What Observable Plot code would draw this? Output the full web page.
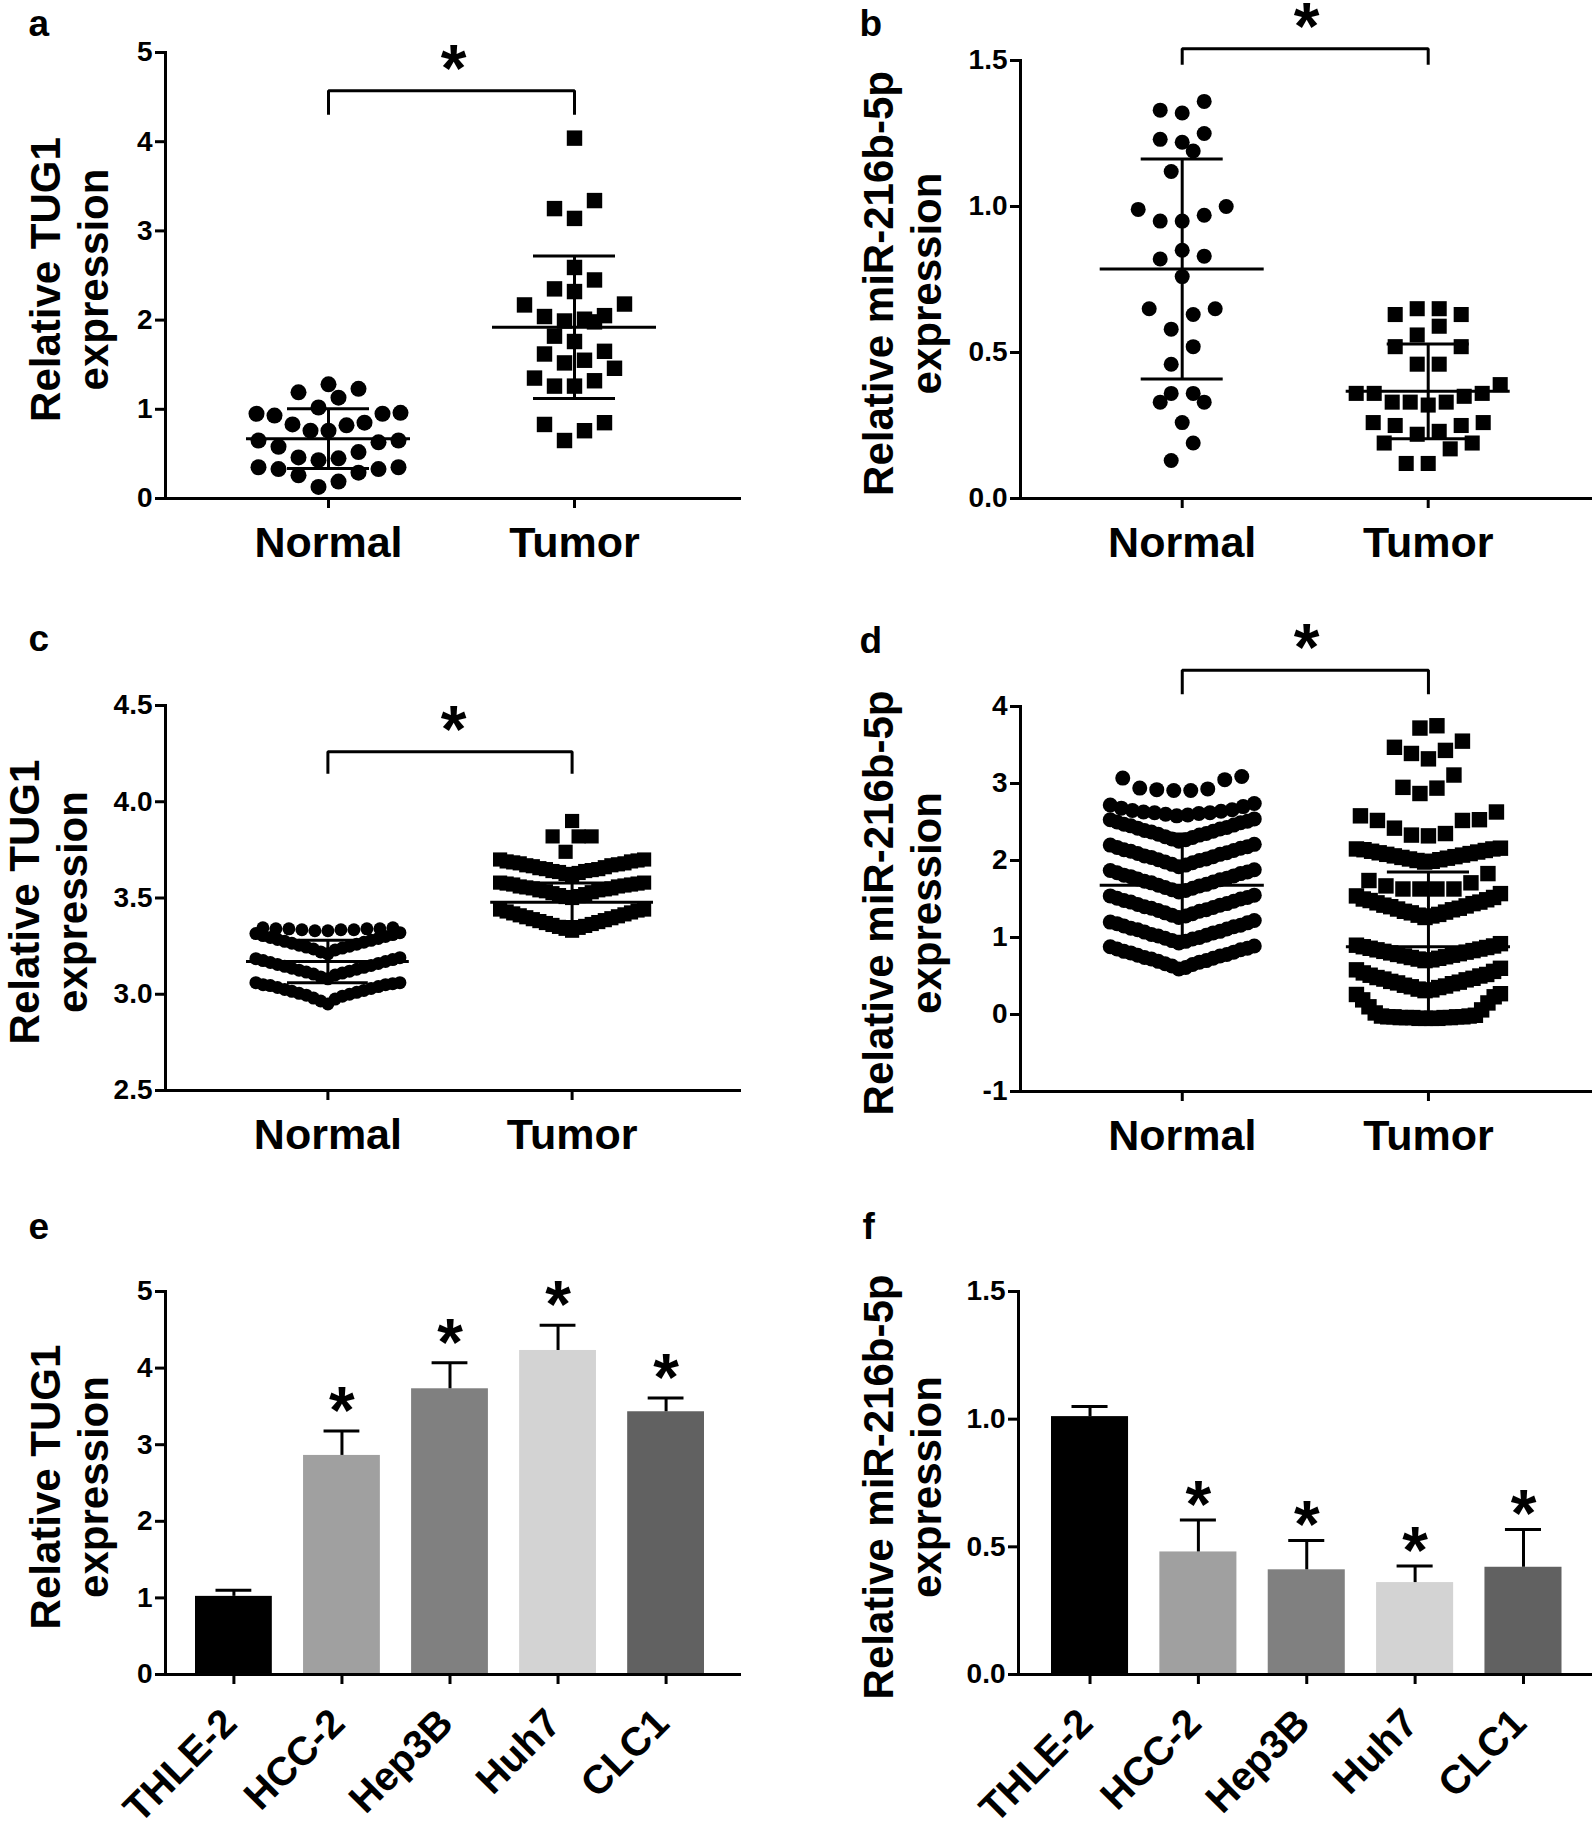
<!DOCTYPE html>
<html><head><meta charset="utf-8">
<script src="https://cdn.jsdelivr.net/npm/d3@7"></script>
<script src="https://cdn.jsdelivr.net/npm/@observablehq/plot@0.6"></script>
<style>
html,body{margin:0;padding:0;background:#fff;}
#fig{position:relative;width:1595px;height:1830px;overflow:hidden;background:#fff;}
#fig svg{position:absolute;overflow:visible;}
</style></head><body><div id="fig"></div>
<script>
// ---------------- DATA ----------------
const groups = ["Normal", "Tumor"];

// a: TUG1 in tissues
const aNormal = [1.23,1.28,1.13,1.19,0.96,0.95,1.02,0.93,0.95,0.85,0.82,0.83,0.76,0.76,0.65,0.63,0.65,0.58,0.52,0.45,0.43,0.46,0.35,0.33,0.26,0.29,0.33,0.35,0.13,0.19];
const aTumor  = [4.04,3.34,3.25,3.14,2.59,2.45,2.32,2.35,2.17,2.18,2.05,2.01,1.98,1.99,2.04,1.82,1.76,1.62,1.52,1.55,1.65,1.46,1.35,1.26,1.26,1.32,0.83,0.65,0.76,0.85];
const aMean = [0.67, 1.92], aSD = [0.335, 0.80];

// b: miR-216b-5p in tissues
const bNormal = [1.36,1.32,1.33,1.23,1.22,1.25,1.19,1.12,0.99,1.00,0.95,0.95,0.97,0.85,0.82,0.83,0.76,0.65,0.65,0.63,0.58,0.52,0.46,0.36,0.33,0.36,0.33,0.26,0.19,0.13];
const bTumor  = [0.63,0.65,0.65,0.63,0.56,0.59,0.52,0.52,0.46,0.46,0.39,0.36,0.35,0.33,0.32,0.33,0.33,0.36,0.36,0.26,0.25,0.23,0.22,0.25,0.26,0.19,0.17,0.19,0.12,0.12];
const bMean = [0.786, 0.367], bSD = [0.377, 0.162];

// c: TUG1 (database cohort)
const cNormal = [
  2.95,2.965,2.975,2.98,2.99,2.995,3.00,3.005,3.01,3.015,3.02,3.025,3.03,3.035,3.04,3.045,3.05,3.05,3.055,3.06,3.06,
  3.08,3.09,3.10,3.105,3.11,3.115,3.12,3.125,3.13,3.135,3.14,3.145,3.15,3.155,3.16,3.165,3.17,3.175,3.18,3.185,3.19,
  3.21,3.22,3.23,3.235,3.24,3.245,3.25,3.255,3.26,3.265,3.27,3.275,3.28,3.285,3.29,3.295,3.30,3.305,3.31,3.315,3.32,
  3.33,3.33,3.335,3.335,3.335,3.34,3.34,3.34,3.34,3.345,3.345];
const cTumor = [
  3.33,3.34,3.345,3.35,3.355,3.36,3.365,3.37,3.375,3.38,3.385,3.39,3.395,3.40,3.405,3.41,3.415,3.42,3.425,3.43,3.435,3.44,3.44,
  3.50,3.505,3.51,3.515,3.52,3.525,3.53,3.535,3.54,3.54,3.545,3.55,3.55,3.555,3.56,3.56,3.565,3.57,3.57,3.575,3.575,3.58,3.58,
  3.62,3.625,3.63,3.635,3.64,3.64,3.645,3.65,3.65,3.655,3.66,3.665,3.67,3.67,3.675,3.68,3.68,3.685,3.69,3.69,3.695,3.70,3.70,
  3.74,3.82,3.82,3.82,3.90];
const cMean = [3.17, 3.478], cSD = [0.11, 0.10];

// d: miR-216b-5p (database cohort)
const dNormal = [
  0.59,0.61,0.63,0.65,0.66,0.68,0.69,0.70,0.72,0.73,0.74,0.76,0.77,0.78,0.80,0.81,0.82,0.84,0.85,0.86,0.88,0.89,
  0.93,0.95,0.96,0.98,0.99,1.00,1.02,1.03,1.04,1.06,1.07,1.08,1.10,1.11,1.12,1.14,1.15,1.16,1.18,1.19,1.20,1.22,
  1.26,1.28,1.29,1.31,1.32,1.34,1.35,1.36,1.38,1.39,1.40,1.42,1.43,1.44,1.46,1.47,1.48,1.50,1.51,1.52,1.54,1.55,
  1.59,1.61,1.62,1.64,1.65,1.67,1.68,1.69,1.71,1.72,1.73,1.75,1.76,1.77,1.79,1.80,1.81,1.83,1.84,1.85,1.87,1.88,
  1.92,1.94,1.95,1.97,1.98,2.00,2.01,2.02,2.04,2.05,2.06,2.08,2.09,2.10,2.12,2.13,2.14,2.16,2.17,2.18,2.20,2.21,
  2.25,2.27,2.28,2.30,2.31,2.33,2.34,2.35,2.37,2.38,2.39,2.41,2.42,2.43,2.45,2.46,2.47,2.49,2.50,2.51,2.53,2.54,
  2.58,2.59,2.60,2.61,2.62,2.62,2.63,2.64,2.65,2.66,2.68,2.70,2.72,2.74,
  2.91,2.91,2.92,2.93,2.94,3.05,3.07,3.09];
const dTumor = [
  -0.05,-0.05,-0.05,-0.05,-0.04,-0.04,-0.04,-0.04,-0.04,-0.03,-0.03,-0.03,-0.03,-0.02,-0.02,-0.01,0.02,0.06,0.10,0.15,0.19,0.23,0.26,0.27,
  0.31,0.32,0.33,0.35,0.36,0.37,0.38,0.40,0.41,0.42,0.43,0.45,0.46,0.47,0.48,0.50,0.51,0.52,0.54,0.56,0.58,0.60,
  0.70,0.71,0.72,0.73,0.74,0.75,0.76,0.77,0.78,0.79,0.80,0.81,0.82,0.83,0.84,0.85,0.86,0.87,0.88,0.89,0.90,0.92,
  1.26,1.28,1.29,1.30,1.32,1.33,1.34,1.36,1.37,1.38,1.40,1.41,1.42,1.44,1.45,1.46,1.48,1.49,1.50,1.52,1.54,1.57,
  1.63,1.63,1.63,1.63,1.67,1.71,1.74,1.83,
  1.98,1.99,2.00,2.01,2.02,2.03,2.04,2.05,2.06,2.07,2.08,2.09,2.10,2.11,2.12,2.13,2.14,2.15,2.15,2.16,
  2.32,2.33,2.35,2.42,2.52,2.52,2.53,2.58,2.63,
  2.87,2.94,2.95,3.11,
  3.32,3.39,3.43,3.47,3.55,
  3.72,3.75];
const dMean = [1.68, 0.88], dSD = [0.665, 0.97];

// significance bracket levels (a, b, c, d)
const bracketLevels = [4.57, 1.54, 4.26, 4.47];

// e, f: cell lines
const cells = ["THLE-2", "HCC-2", "Hep3B", "Huh7", "CLC1"];
const eMean = [1.02, 2.86, 3.73, 4.23, 3.43];
const eErr  = [0.08, 0.32, 0.34, 0.33, 0.18];
const fMean = [1.01, 0.48, 0.41, 0.36, 0.42];
const fErr  = [0.04, 0.125, 0.115, 0.065, 0.148];
const sigCells = [false, true, true, true, true];

const titleTUG1 = "Relative TUG1\nexpression";
const titleMiR = "Relative miR-216b-5p\nexpression";

// ---------------- STYLE ----------------
const FONT = '"Liberation Sans", Arial, Helvetica, sans-serif';
const barGrays = ["#000000", "#a0a0a0", "#808080", "#d3d3d3", "#616161"];
const SW = 3;
const STAR = 66;

// Prism-like column scatter layout (rows of near-equal values spread center-out)
function rowLayout({rowSpan, sMax, maxHalf}) {
  return (data, facets, channels, scales) => {
    const X = channels.x.value, Y = channels.y.value;
    const n = X.length;
    const PX = new Float64Array(n), PY = new Float64Array(n);
    const byCat = d3.group(d3.range(n), i => X[i]);
    for (const [cat, idx] of byCat) {
      const x0 = scales.x(cat);
      const sorted = idx.slice().sort((a, b) => Y[a] - Y[b]);
      let k = 0;
      while (k < sorted.length) {
        const y0 = scales.y(Y[sorted[k]]);
        let j = k;
        while (j < sorted.length && y0 - scales.y(Y[sorted[j]]) < rowSpan) j++;
        const row = sorted.slice(k, j);
        const m = row.length;
        const s = m > 1 ? Math.min(sMax, 2 * maxHalf / (m - 1)) : 0;
        row.forEach((i, r) => {
          let off;
          if (m % 2) off = r === 0 ? 0 : (r % 2 ? -1 : 1) * s * Math.ceil(r / 2);
          else off = (r % 2 ? 1 : -1) * s * (Math.floor(r / 2) + 0.5);
          PX[i] = x0 + off;
          PY[i] = scales.y(Y[i]);
        });
        k = j;
      }
    }
    return {data, facets, channels: {x: {value: PX, source: null}, y: {value: PY, source: null}}};
  };
}

function margins(p) {
  return {
    width: p.box.width, height: p.box.height,
    marginLeft: p.frame.left - p.box.left,
    marginRight: p.box.left + p.box.width - p.frame.right,
    marginTop: p.frame.top - p.box.top,
    marginBottom: p.box.top + p.box.height - p.frame.bottom
  };
}

function commonMarks(p) {
  return [
    Plot.frame({anchor: "left", strokeWidth: SW}),
    Plot.ruleY([p.yDomain[0]], {strokeWidth: SW}),
    Plot.axisY({ticks: p.yTicks, tickFormat: p.fmt, tickSize: 10, tickPadding: 3,
      fontSize: 28, fontWeight: "bold", strokeWidth: SW, label: null}),
    Plot.text([p.title], {frameAnchor: "left", rotate: -90, textAnchor: "middle", lineAnchor: "top",
      lineHeight: 1.15, dx: p.titleX - 4 - p.frame.left, dy: 4, fontSize: 42, fontWeight: "bold"}),
    Plot.text([p.letter], {frameAnchor: "top-left", textAnchor: "start", lineAnchor: "bottom",
      dx: p.letterPos[0] - p.frame.left, dy: p.letterPos[1] - p.frame.top, fontSize: 37, fontWeight: "bold"})
  ];
}

function place(svg, p) {
  svg.style.position = "absolute";
  svg.style.left = p.box.left + "px";
  svg.style.top = p.box.top + "px";
  document.getElementById("fig").appendChild(svg);
}

function scatterPanel(p) {
  const pxPerUnit = (p.frame.bottom - p.frame.top) / (p.yDomain[1] - p.yDomain[0]);
  const pts = (vals, g) => vals.map(v => ({g, v}));
  const stats = groups.map((g, i) => ({g, mean: p.mean[i], lo: p.mean[i] - p.sd[i], hi: p.mean[i] + p.sd[i]}));
  const legLow = p.bracket - p.legPx / pxPerUnit;
  const bracketPath = [
    {g: groups[0], v: legLow}, {g: groups[0], v: p.bracket},
    {g: groups[1], v: p.bracket}, {g: groups[1], v: legLow}];
  const lay = rowLayout(p.layout);
  const svg = Plot.plot({
    ...margins(p),
    style: {fontFamily: FONT, color: "black", background: "none", overflow: "visible"},
    x: {type: "band", domain: groups, range: [p.xRange[0] - p.box.left, p.xRange[1] - p.box.left],
        paddingInner: 1 / 3, paddingOuter: 0, round: false},
    y: {domain: p.yDomain, nice: false},
    marks: [
      ...commonMarks(p),
      Plot.axisX({tickSize: 10, tickPadding: 18, fontSize: 43, fontWeight: "bold", strokeWidth: SW, label: null}),
      Plot.dot(pts(p.normal, groups[0]), {x: "g", y: "v", r: p.rN, symbol: "circle", fill: "black", stroke: "none", initializer: lay}),
      Plot.dot(pts(p.tumor, groups[1]), {x: "g", y: "v", r: p.rT, symbol: "square", fill: "black", stroke: "none", initializer: lay}),
      Plot.tickY(stats, {x: "g", y: "mean", strokeWidth: SW}),
      Plot.ruleX(stats, {x: "g", y1: "lo", y2: "hi", strokeWidth: SW}),
      Plot.tickY(stats, {x: "g", y: "hi", strokeWidth: SW, insetLeft: 41, insetRight: 41}),
      Plot.tickY(stats, {x: "g", y: "lo", strokeWidth: SW, insetLeft: 41, insetRight: 41}),
      Plot.line(bracketPath, {x: "g", y: "v", strokeWidth: SW, strokeLinejoin: "miter", strokeLinecap: "butt"}),
      Plot.text(["*"], {y: p.bracket, fontSize: STAR, fontWeight: "bold", lineAnchor: "bottom", dy: 0})
    ]
  });
  place(svg, p);
}

function barPanel(p) {
  const rows = cells.map((c, i) => ({c, v: p.mean[i], top: p.mean[i] + p.err[i], sig: sigCells[i]}));
  const svg = Plot.plot({
    ...margins(p),
    style: {fontFamily: FONT, color: "black", background: "none", overflow: "visible"},
    x: {type: "band", domain: cells, range: [p.xRange[0] - p.box.left, p.xRange[1] - p.box.left],
        paddingInner: 0.289, paddingOuter: 0, round: false},
    y: {domain: p.yDomain, nice: false},
    color: {type: "ordinal", domain: cells, range: barGrays},
    marks: [
      Plot.barY(rows, {x: "c", y: "v", fill: "c"}),
      Plot.ruleX(rows, {x: "c", y1: "v", y2: "top", strokeWidth: SW}),
      Plot.tickY(rows, {x: "c", y: "top", strokeWidth: SW, insetLeft: 20.5, insetRight: 20.5}),
      Plot.text(rows.filter(d => d.sig), {x: "c", y: "top", text: () => "*", dy: p.starDy,
        fontSize: STAR, fontWeight: "bold", lineAnchor: "bottom"}),
      ...commonMarks(p),
      Plot.axisX({tickSize: 10, tickFormat: () => "", strokeWidth: SW, label: null}),
      Plot.text(cells, {x: d => d, frameAnchor: "bottom", rotate: -45, textAnchor: "end", lineAnchor: "middle",
        dx: -4, dy: 42, fontSize: 40, fontWeight: "bold"})
    ]
  });
  place(svg, p);
}

const fmtInt = v => String(v);
const fmt1 = d3.format(".1f");

scatterPanel({
  letter: "a", letterPos: [28, 35], title: titleTUG1, titleX: 29,
  box: {left: 0, top: 0, width: 800, height: 590}, frame: {left: 165, right: 741, top: 52, bottom: 498},
  xRange: [246, 656], yDomain: [0, 5], yTicks: [0, 1, 2, 3, 4, 5], fmt: fmtInt,
  normal: aNormal, tumor: aTumor, mean: aMean, sd: aSD, rN: 8, rT: 8.7,
  layout: {rowSpan: 20, sMax: 20, maxHalf: 72}, bracket: bracketLevels[0], legPx: 24
});
scatterPanel({
  letter: "b", letterPos: [859, 35], title: titleMiR, titleX: 862,
  box: {left: 800, top: 0, width: 795, height: 590}, frame: {left: 1020, right: 1592, top: 60, bottom: 498},
  xRange: [1099.7, 1509.7], yDomain: [0, 1.5], yTicks: [0, 0.5, 1, 1.5], fmt: fmt1,
  normal: bNormal, tumor: bTumor, mean: bMean, sd: bSD, rN: 7.5, rT: 8.5,
  layout: {rowSpan: 22, sMax: 22, maxHalf: 72}, bracket: bracketLevels[1], legPx: 16
});
scatterPanel({
  letter: "c", letterPos: [28, 650], title: titleTUG1, titleX: 8,
  box: {left: 0, top: 590, width: 800, height: 590}, frame: {left: 165, right: 741, top: 705, bottom: 1090},
  xRange: [246, 653], yDomain: [2.5, 4.5], yTicks: [2.5, 3, 3.5, 4, 4.5], fmt: fmt1,
  normal: cNormal, tumor: cTumor, mean: cMean, sd: cSD, rN: 6.5, rT: 8,
  layout: {rowSpan: 22, sMax: 13, maxHalf: 72}, bracket: bracketLevels[2], legPx: 22
});
scatterPanel({
  letter: "d", letterPos: [859, 652], title: titleMiR, titleX: 862,
  box: {left: 800, top: 590, width: 795, height: 590}, frame: {left: 1020, right: 1592, top: 706, bottom: 1091},
  xRange: [1099.7, 1510], yDomain: [-1, 4], yTicks: [-1, 0, 1, 2, 3, 4], fmt: fmtInt,
  normal: dNormal, tumor: dTumor, mean: dMean, sd: dSD, rN: 7.5, rT: 8.7,
  layout: {rowSpan: 25, sMax: 17, maxHalf: 72}, bracket: bracketLevels[3], legPx: 24
});
barPanel({
  letter: "e", letterPos: [28, 1238], title: titleTUG1, titleX: 29,
  box: {left: 0, top: 1180, width: 800, height: 650}, frame: {left: 165, right: 741, top: 1291, bottom: 1674},
  xRange: [195, 704], yDomain: [0, 5], yTicks: [0, 1, 2, 3, 4, 5], fmt: fmtInt,
  mean: eMean, err: eErr, starDy: 2
});
barPanel({
  letter: "f", letterPos: [862, 1238], title: titleMiR, titleX: 862,
  box: {left: 800, top: 1180, width: 795, height: 650}, frame: {left: 1018, right: 1592, top: 1291, bottom: 1674},
  xRange: [1051, 1561.5], yDomain: [0, 1.5], yTicks: [0, 0.5, 1, 1.5], fmt: fmt1,
  mean: fMean, err: fErr, starDy: 7
});
</script></body></html>
